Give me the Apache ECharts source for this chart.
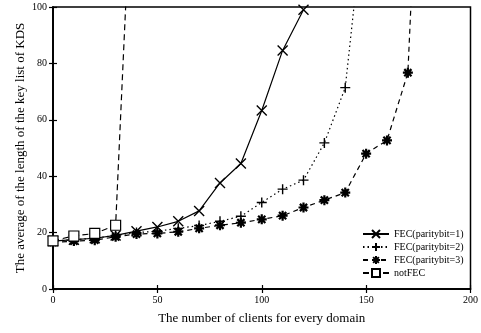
<!DOCTYPE html>
<html>
<head>
<meta charset="utf-8">
<script src="https://cdn.jsdelivr.net/npm/echarts@6/dist/echarts.min.js"></script>
<style>
  html, body { margin: 0; padding: 0; background: #fff; }
  #chart { width: 481px; height: 333px; }
</style>
</head>
<body>
<div id="chart"></div>
<script>
// Number of clients per domain (x positions of the measurements)
const clients = [0, 10, 20, 30, 40, 50, 60, 70, 80, 90, 100, 110, 120, 130, 140, 150, 160, 170, 180];

// Average length of the KDS key list for each scheme
const fec1   = [17, 17.5, 18, 19, 20.5, 22, 24, 27.7, 37.6, 44.5, 63.3, 84.6, 99];
const fec2   = [17, 17.5, 18, 19, 20, 20.5, 21.5, 22.5, 24, 25.8, 30.7, 35.4, 38.6, 51.8, 71.4, 140];
const fec3   = [16.5, 17, 17.3, 18.5, 19.5, 19.7, 20.3, 21.5, 22.6, 23.5, 24.7, 26, 28.9, 31.5, 34.2, 48, 52.7, 76.7, 240];
const notFec = [17.1, 18.8, 19.7, 22.6, 184];

const seriesNames = ['FEC(paritybit=1)', 'FEC(paritybit=2)', 'FEC(paritybit=3)', 'notFEC'];

const xTicks = { min: 0, max: 200, interval: 50 };
const yTicks = { min: 0, max: 100, interval: 20 };

const SERIF = '"Liberation Serif", "DejaVu Serif", serif';

function pairs(values) {
  return values.map((v, i) => [clients[i], v]);
}

const crossPath = 'path://M0,0L10,10M10,0L0,10';
const plusPath = 'path://M5,0L5,10M0,5L10,5';
const starPath = 'path://M5,0L5,10M0,5L10,5M1.4,1.4L8.6,8.6M8.6,1.4L1.4,8.6';

function lineSeries(name, values, symbol, size, lineType, symbolStyle) {
  return {
    name: name,
    type: 'line',
    data: pairs(values),
    symbol: symbol,
    symbolSize: size,
    clip: true,
    lineStyle: { color: '#000', width: 1.2, type: lineType },
    itemStyle: Object.assign({ color: '#000', borderColor: '#000', borderWidth: 1.4 }, symbolStyle || {}),
    emphasis: { disabled: true },
    z: 3
  };
}

const chart = echarts.init(document.getElementById('chart'), null, { renderer: 'canvas' });

const axisCommon = {
  axisLine: { show: true, lineStyle: { color: '#000', width: 1.5 } },
  axisTick: { show: true, inside: true, length: 4, lineStyle: { color: '#000', width: 1.2 } },
  splitLine: { show: false }
};

chart.setOption({
  animation: false,
  backgroundColor: '#fff',
  grid: { left: 53, right: 9, top: 7, bottom: 44, show: true, borderColor: '#000', borderWidth: 1.5 },
  legend: {
    orient: 'vertical',
    left: 357,
    top: 224,
    itemWidth: 26,
    itemHeight: 10,
    itemGap: 3,
    data: seriesNames,
    textStyle: { fontFamily: SERIF, fontSize: 10, color: '#000' }
  },
  xAxis: [
    Object.assign({
      type: 'value', position: 'bottom',
      min: xTicks.min, max: xTicks.max, interval: xTicks.interval,
      name: 'The number of clients for every domain',
      nameLocation: 'middle', nameGap: 23,
      nameMoveOverlap: false,
      nameTextStyle: { fontFamily: SERIF, fontSize: 13, color: '#000' },
      axisLabel: { fontFamily: SERIF, fontSize: 10, color: '#000', margin: 6 }
    }, axisCommon),
    Object.assign({
      type: 'value', position: 'top',
      min: xTicks.min, max: xTicks.max, interval: xTicks.interval,
      axisLabel: { show: false }
    }, axisCommon)
  ],
  yAxis: [
    Object.assign({
      type: 'value', position: 'left',
      min: yTicks.min, max: yTicks.max, interval: yTicks.interval,
      name: 'The average of the length of the key list of KDS',
      nameLocation: 'middle', nameGap: 26,
      nameMoveOverlap: false,
      nameTextStyle: { fontFamily: SERIF, fontSize: 13, color: '#000' },
      axisLabel: { fontFamily: SERIF, fontSize: 10, color: '#000', margin: 6 }
    }, axisCommon),
    Object.assign({
      type: 'value', position: 'right',
      min: yTicks.min, max: yTicks.max, interval: yTicks.interval,
      axisLabel: { show: false }
    }, axisCommon)
  ],
  series: [
    lineSeries(seriesNames[0], fec1, crossPath, 10, 'solid'),
    lineSeries(seriesNames[1], fec2, plusPath, 10, [1.5, 3]),
    lineSeries(seriesNames[2], fec3, starPath, 10, [5, 4], { borderWidth: 2.2 }),
    lineSeries(seriesNames[3], notFec, 'rect', 10, [6, 4], { color: '#fff', borderWidth: 1.2 })
  ]
});
</script>
</body>
</html>
